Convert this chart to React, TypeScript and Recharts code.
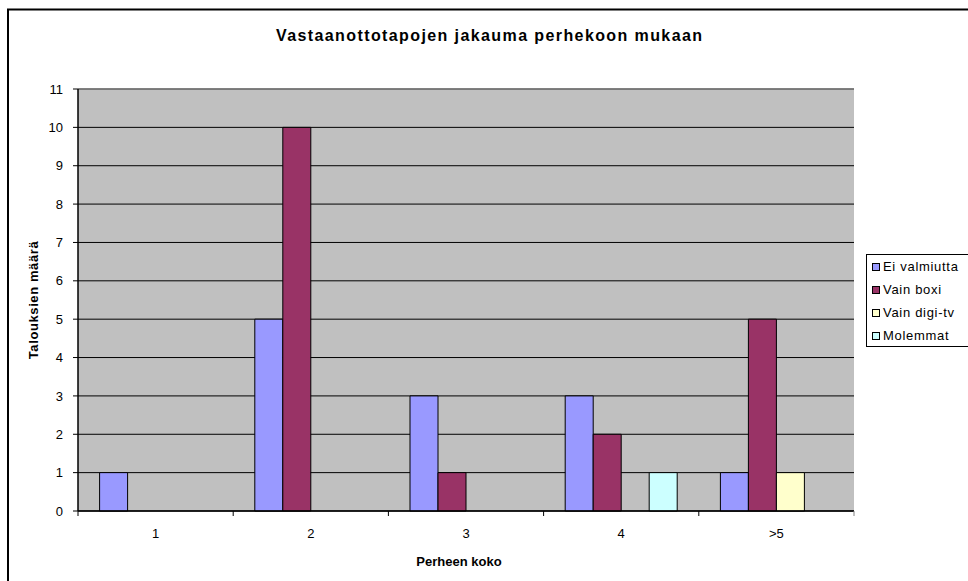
import React from 'react';
import { BarChart, Bar, XAxis, YAxis, CartesianGrid, ReferenceLine } from 'recharts';

// Perheen koko -> talouksien määrä per vastaanottotapa
const categories = ['1', '2', '3', '4', '>5'];
const eiValmiutta = [1, 5, 3, 3, 1];
const vainBoxi = [0, 10, 1, 2, 5];
const vainDigiTv = [0, 0, 0, 0, 1];
const molemmat = [0, 0, 0, 1, 0];
const yTicks = [0, 1, 2, 3, 4, 5, 6, 7, 8, 9, 10, 11];

const series = [
  { key: 'ei', name: 'Ei valmiutta', color: '#9999FF' },
  { key: 'boxi', name: 'Vain boxi', color: '#993366' },
  { key: 'digi', name: 'Vain digi-tv', color: '#FFFFCC' },
  { key: 'mol', name: 'Molemmat', color: '#CCFFFF' },
];

const data = categories.map((c, i) => ({
  koko: c,
  ei: eiValmiutta[i],
  boxi: vainBoxi[i],
  digi: vainDigiTv[i],
  mol: molemmat[i],
}));

const W = 968;
const H = 581;
const FONT = '"Liberation Sans", Arial, sans-serif';
const Y_AXIS_W = 60;
const X_AXIS_H = 40;
const margin = { top: 89, right: 114, bottom: H - 511 - X_AXIS_H, left: 78 - Y_AXIS_W };
const BAND = (W - 78 - margin.right) / categories.length;

// excel style: ticks between categories, labels centred
const CatTick = (props: any) => {
  const { x, y, payload, index } = props;
  const half = payload && payload.offset ? payload.offset : BAND / 2;
  return (
    <g>
      <line x1={x - half} x2={x - half} y1={y} y2={y + 5} stroke="#000" />
      {index === categories.length - 1 && (
        <line x1={x + half} x2={x + half} y1={y} y2={y + 5} stroke="#808080" />
      )}
      <text x={x} y={y + 27} textAnchor="middle" fontSize={13} fontFamily={FONT} fill="#000">
        {payload.value}
      </text>
    </g>
  );
};

const ChartLegend = () => (
  <div
    style={{
      position: 'absolute',
      left: 866,
      top: 254,
      border: '1px solid #000',
      background: '#fff',
      width: 120,
      height: 93,
      boxSizing: 'border-box',
      fontFamily: FONT,
      fontSize: 13,
      letterSpacing: 0.7,
      color: '#000',
    }}
  >
    {series.map((s) => (
      <div key={s.key} style={{ height: 23, display: 'flex', alignItems: 'center', whiteSpace: 'nowrap' }}>
        <span
          style={{
            display: 'inline-block',
            width: 8,
            height: 8,
            marginLeft: 5,
            marginRight: 3,
            background: s.color,
            border: '1px solid #000',
            boxSizing: 'border-box',
          }}
        />
        {s.name}
      </div>
    ))}
  </div>
);

export default function App() {
  return (
    <div style={{ position: 'absolute', left: 0, top: 0, width: W, height: H, background: '#fff', overflow: 'hidden' }}>
      <BarChart
        width={W}
        height={H}
        data={data}
        margin={margin}
        barCategoryGap={21.6}
        barGap={0}
        style={{ position: 'absolute', left: 0, top: 0 }}
      >
        <CartesianGrid vertical={false} stroke="#000" fill="#C0C0C0" fillOpacity={1} />
        <ReferenceLine y={11} stroke="#808080" strokeWidth={1.5} />
        <XAxis
          dataKey="koko"
          height={X_AXIS_H}
          axisLine={{ stroke: '#000', strokeWidth: 1.5 }}
          tickLine={false}
          tickSize={0}
          tickMargin={0}
          interval={0}
          tick={<CatTick />}
        />
        <YAxis
          width={Y_AXIS_W}
          domain={[0, 11]}
          ticks={yTicks}
          interval={0}
          allowDecimals={false}
          axisLine={{ stroke: '#000', strokeWidth: 1.5 }}
          tickLine={{ stroke: '#000' }}
          tickSize={5}
          tickMargin={10}
          tick={{ fontSize: 13, fontFamily: FONT, fill: '#000' }}
        />
        <YAxis
          yAxisId="r"
          orientation="right"
          width={0}
          domain={[0, 11]}
          axisLine={{ stroke: '#808080', strokeWidth: 1.5 }}
          tick={false}
          tickLine={false}
        />
        {series.map((s) => (
          <Bar
            key={s.key}
            dataKey={s.key}
            name={s.name}
            fill={s.color}
            stroke="#000"
            strokeWidth={1}
            isAnimationActive={false}
          />
        ))}
      </BarChart>
      <ChartLegend />
      <svg width={W} height={H} style={{ position: 'absolute', left: 0, top: 0, pointerEvents: 'none' }}>
        <path d="M8,581 L8,9.5 L968,9.5" fill="none" stroke="#000" strokeWidth={2} />
        <text x={276} y={40.5} fontFamily={FONT} fontWeight="bold" fontSize={16} letterSpacing={1.4} fill="#000">
          Vastaanottotapojen jakauma perhekoon mukaan
        </text>
        <text
          x={33}
          y={300}
          transform="rotate(-90, 33, 300)"
          textAnchor="middle"
          dominantBaseline="central"
          fontFamily={FONT}
          fontWeight="bold"
          fontSize={13}
          letterSpacing={0.6}
          fill="#000"
        >
          Talouksien määrä
        </text>
        <text x={459} y={566} textAnchor="middle" fontFamily={FONT} fontWeight="bold" fontSize={13} fill="#000">
          Perheen koko
        </text>
      </svg>
    </div>
  );
}
